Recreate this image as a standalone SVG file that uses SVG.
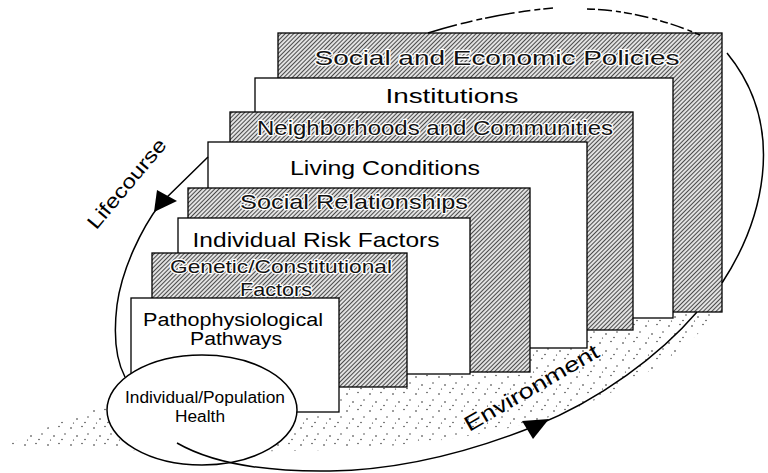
<svg xmlns="http://www.w3.org/2000/svg" width="768" height="473" viewBox="0 0 768 473">
<defs>
<pattern id="hatch" width="3" height="3" patternUnits="userSpaceOnUse" patternTransform="rotate(45)">
<rect width="3" height="3" fill="#e2e2e2"/><rect width="0.9" height="3" fill="#3a3a3a"/>
</pattern>
<pattern id="stip" width="23" height="17" patternUnits="userSpaceOnUse">
<circle cx="2" cy="3" r="0.8" fill="#222"/><circle cx="13" cy="1.5" r="0.7" fill="#222"/><circle cx="8" cy="11" r="0.8" fill="#222"/><circle cx="19" cy="9" r="0.7" fill="#222"/><circle cx="4.5" cy="15" r="0.6" fill="#222"/><circle cx="16" cy="14.5" r="0.7" fill="#222"/>
</pattern>
<style>
.gray{fill:url(#hatch);stroke:#000;stroke-width:1.3}
.white{fill:#fff;stroke:#000;stroke-width:1.3}
.t{font-family:"Liberation Sans",Arial,sans-serif;font-size:21px;text-anchor:middle;fill:#000}
.tg{font-family:"Liberation Sans",Arial,sans-serif;font-size:21px;text-anchor:middle;fill:#111;stroke:#fff;stroke-width:2.4;paint-order:stroke;stroke-linejoin:round}
.loop{fill:none;stroke:#000;stroke-width:1.5}
</style>
</defs>
<rect width="768" height="473" fill="#fff"/>
<path id="stipple" d="M5,445 C40,430 90,410 135,392 L700,300 L720,310 C680,360 610,400 540,420 C470,440 400,446 330,450 C260,452 190,452 120,450 C70,450 30,449 5,445 Z" fill="url(#stip)"/>
<g id="n-policies"><rect class="gray" x="278" y="33" width="444" height="279"/><text class="tg" x="497" y="65" textLength="365" lengthAdjust="spacingAndGlyphs">Social and Economic Policies</text></g>
<g id="n-institutions"><rect class="white" x="255" y="78" width="418" height="240"/><text class="t" x="452" y="103" textLength="133" lengthAdjust="spacingAndGlyphs">Institutions</text></g>
<g id="n-neighborhoods"><rect class="gray" x="230" y="112" width="403" height="218"/><text class="tg" x="435" y="135" textLength="356" lengthAdjust="spacingAndGlyphs">Neighborhoods and Communities</text></g>
<g id="n-living"><rect class="white" x="208" y="142" width="379" height="206"/><text class="t" x="385" y="175" textLength="190" lengthAdjust="spacingAndGlyphs">Living Conditions</text></g>
<g id="n-social"><rect class="gray" x="188" y="188" width="342" height="184"/><text class="tg" x="354" y="209" textLength="228" lengthAdjust="spacingAndGlyphs">Social Relationships</text></g>
<g id="n-risk"><rect class="white" x="178" y="218" width="292" height="156"/><text class="t" x="316" y="247" textLength="247" lengthAdjust="spacingAndGlyphs">Individual Risk Factors</text></g>
<g id="n-genetic"><rect class="gray" x="152" y="253" width="255" height="134"/><text class="tg" x="281" y="273" style="font-size:19px" textLength="222" lengthAdjust="spacingAndGlyphs">Genetic/Constitutional</text><text class="tg" x="276" y="296" style="font-size:19px" textLength="72" lengthAdjust="spacingAndGlyphs">Factors</text></g>
<g id="n-patho"><rect class="white" x="131" y="298" width="208" height="114"/><text class="t" x="233" y="326" style="font-size:18px" textLength="180" lengthAdjust="spacingAndGlyphs">Pathophysiological</text><text class="t" x="236" y="345" style="font-size:18px" textLength="92" lengthAdjust="spacingAndGlyphs">Pathways</text></g>
<g id="n-health"><ellipse cx="202" cy="410" rx="95" ry="55" fill="#fff" stroke="#000" stroke-width="1.5"/><text class="t" x="205" y="403" style="font-size:16px" textLength="160" lengthAdjust="spacingAndGlyphs">Individual/Population</text><text class="t" x="200" y="422" style="font-size:16px" textLength="50" lengthAdjust="spacingAndGlyphs">Health</text></g>
<g id="connectors">
<path class="loop" d="M208,157 L160,204 C142,228 122,268 117,305 C113,338 117,362 125,377"/>
<path class="loop" d="M177,443 C210,462 260,472 330,471 C400,470 470,452 535,426 C600,400 660,355 697,312"/>
<path class="loop" d="M722,283 C760,225 790,130 727,53"/>
<path class="loop" stroke-width="1.3" stroke-dasharray="30 4 12 4 6 3" d="M428,33 C470,20 510,12 553,8"/>
<path class="loop" stroke-width="1.3" stroke-dasharray="8 3 14 4 5 3" d="M587,9 C630,10 670,22 700,35"/>
<polygon points="154,212 157,190 177,201" fill="#000"/>
<polygon points="522,421 549,419 533,439" fill="#000"/>
</g>
<text id="lifecourse" class="t" x="0" y="0" transform="translate(132,188) rotate(-50)" textLength="111" lengthAdjust="spacingAndGlyphs" style="font-size:20px">Lifecourse</text>
<text id="environment" class="t" x="0" y="0" transform="translate(535,394) rotate(-30)" textLength="152" lengthAdjust="spacingAndGlyphs">Environment</text>
</svg>
